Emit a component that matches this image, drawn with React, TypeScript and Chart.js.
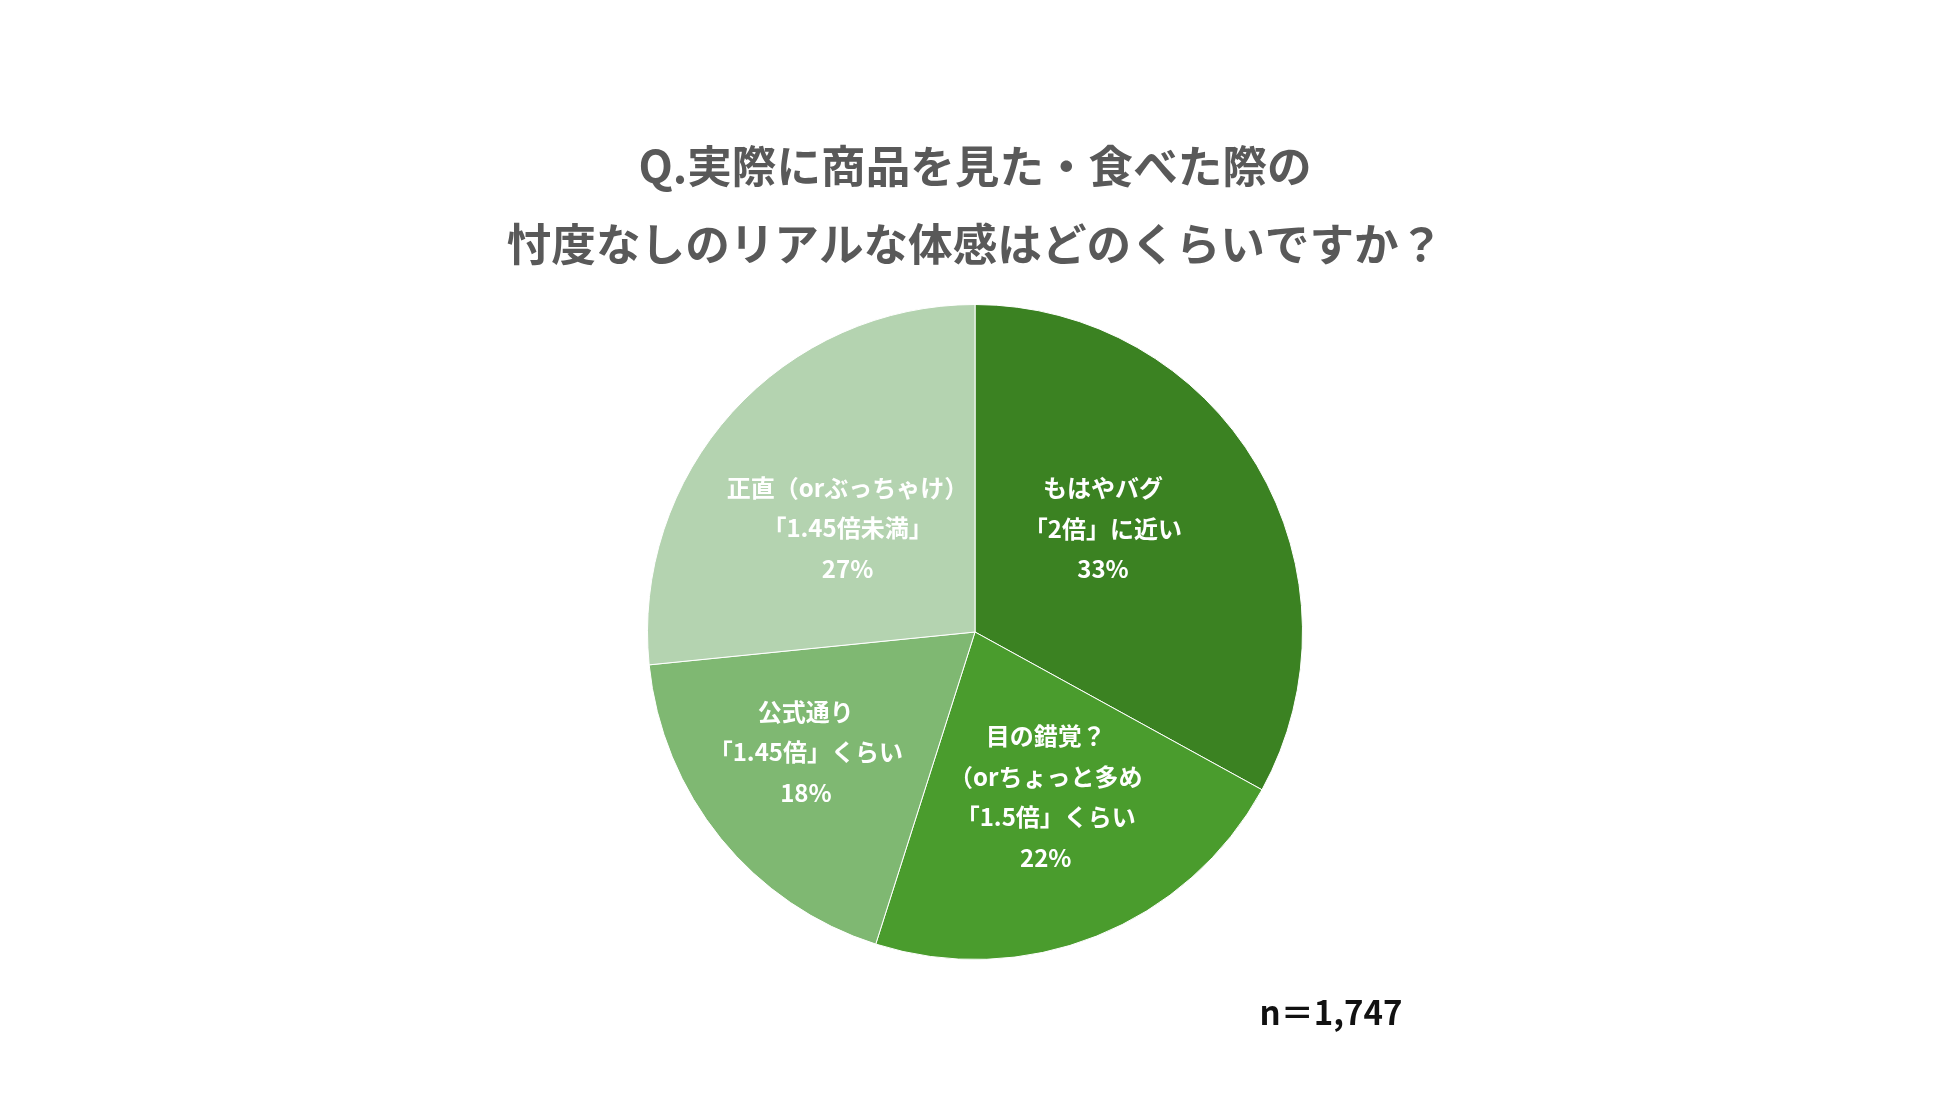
import React, { useEffect, useRef } from "react";
import { Chart, registerables } from "chart.js";

Chart.register(...registerables);

const titleLines = ["Q.実際に商品を見た・食べた際の", "忖度なしのリアルな体感はどのくらいですか？"];
const categories = [
  ["もはやバグ", "「2倍」に近い"],
  ["目の錯覚？", "（orちょっと多め", "「1.5倍」くらい"],
  ["公式通り", "「1.45倍」くらい"],
  ["正直（orぶっちゃけ）", "「1.45倍未満」"],
];
const values = [33.0, 21.9, 18.5, 26.6];
const percentLabels = ["33%", "22%", "18%", "27%"];
const sampleNote = "n＝1,747";

const sliceColors = ["#3b8222", "#4a9c2d", "#7fb872", "#b4d3b0"];
const labelOffsets = [
  [-13, -20],
  [10, 13],
  [-42, 17],
  [-6, 6],
];
const FONT = '"Noto Sans CJK JP", "Noto Sans", sans-serif';

const labelPlugin = {
  id: "sliceLabels",
  afterDatasetsDraw(chart: any) {
    const ctx = chart.ctx;
    const meta = chart.getDatasetMeta(0);
    ctx.save();
    ctx.fillStyle = "#ffffff";
    ctx.textAlign = "center";
    ctx.textBaseline = "middle";
    ctx.font = `bold 24px ${FONT}`;
    const lh = 40.6;
    meta.data.forEach((arc: any, i: number) => {
      const c = arc.getCenterPoint();
      const lines = [...categories[i], percentLabels[i]];
      const cx = c.x + labelOffsets[i][0];
      const cy = c.y + labelOffsets[i][1];
      const startY = cy - ((lines.length - 1) * lh) / 2;
      lines.forEach((t, j) => ctx.fillText(t, cx, startY + j * lh));
    });
    // sample size note
    ctx.fillStyle = "#111111";
    ctx.font = `bold 33px ${FONT}`;
    ctx.fillText(sampleNote, 1331, 1012);
    ctx.restore();
  },
};

export default function App() {
  const ref = useRef<HTMLCanvasElement>(null);
  useEffect(() => {
    document.body.style.margin = "0";
    const chart = new Chart(ref.current as HTMLCanvasElement, {
      type: "pie",
      data: {
        labels: categories.map((c) => c.join("")),
        datasets: [
          {
            data: values,
            backgroundColor: sliceColors,
            borderColor: "#ffffff",
            borderWidth: 1,
          },
        ],
      },
      options: {
        animation: false,
        responsive: true,
        maintainAspectRatio: false,
        layout: { padding: { top: 127, bottom: 137, left: 0, right: 0 } },
        plugins: {
          legend: { display: false },
          tooltip: { enabled: false },
          title: {
            display: true,
            text: titleLines,
            color: "#595959",
            font: { family: FONT, size: 44.6, weight: "bold", lineHeight: 78 / 44.6 },
            padding: { top: 0, bottom: 21 },
          },
        },
      },
      plugins: [labelPlugin],
    });
    return () => chart.destroy();
  }, []);
  return (
    <div style={{ position: "absolute", left: 0, top: 0, width: 1950, height: 1097, background: "#ffffff" }}>
      <canvas ref={ref} />
    </div>
  );
}
